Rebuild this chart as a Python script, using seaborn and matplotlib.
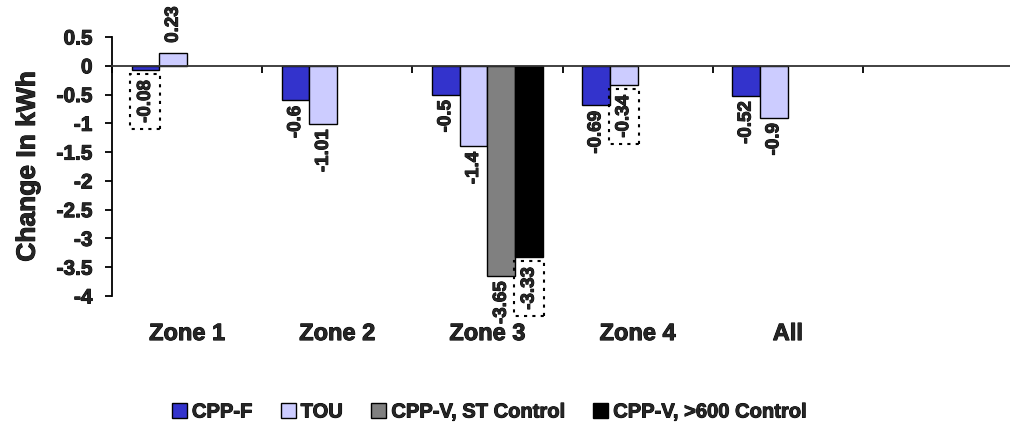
import numpy as np
import pandas as pd
import matplotlib
matplotlib.use("Agg")
import matplotlib.pyplot as plt
import matplotlib.patheffects as pe
import seaborn as sns
from matplotlib.patches import Patch

# ---- data ----
categories = ["Zone 1", "Zone 2", "Zone 3", "Zone 4", "All", " "]
series = ["CPP-F", "TOU", "CPP-V, ST Control", "CPP-V, >600 Control"]
cpp_f = [-0.08, -0.6, -0.5, -0.69, -0.52, None]
tou = [0.23, -1.01, -1.4, -0.34, -0.9, None]
cppv_st = [None, None, -3.65, None, None, None]
cppv_600 = [None, None, -3.33, None, None, None]
boxed = [("Zone 1", "CPP-F"), ("Zone 4", "TOU"), ("Zone 3", "CPP-V, >600 Control")]
colors = ["#3333CC", "#CCCCFF", "#808080", "#000000"]

rows = []
for s, vals in zip(series, [cpp_f, tou, cppv_st, cppv_600]):
    for c, v in zip(categories, vals):
        if v is not None:
            rows.append({"Zone": c, "Series": s, "Value": v})
df = pd.DataFrame(rows)

sns.set_theme(style="white")
plt.rcParams["font.family"] = ["Liberation Sans", "DejaVu Sans"]
plt.rcParams["font.weight"] = "bold"

heavy = [pe.withStroke(linewidth=0.7, foreground="black")]

fig = plt.figure(figsize=(10.10, 4.31), dpi=100)
ax = fig.add_axes([112 / 1010, 1 - 297 / 431, 901 / 1010, (297 - 38) / 431])

sns.barplot(data=df, x="Zone", y="Value", hue="Series", order=categories,
            hue_order=series, palette=colors, width=0.74, errorbar=None,
            edgecolor="black", linewidth=1.0, saturation=1, ax=ax, legend=False)

ax.set_ylim(-4, 0.5)
ax.set_xlim(-0.5, 5.5)
yt = np.arange(-4, 0.51, 0.5)
ax.set_yticks(yt)
ax.set_yticklabels([f"{t:g}" for t in yt], fontsize=15, fontweight="bold")
for t in ax.get_yticklabels():
    t.set_path_effects(heavy)
ax.set_ylabel("Change In kWh", fontsize=19, fontweight="bold", labelpad=12)
ax.yaxis.label.set_path_effects(heavy)
ax.set_xlabel("")

for sp in ["top", "right"]:
    ax.spines[sp].set_visible(False)
ax.spines["left"].set_color("black")
ax.spines["left"].set_linewidth(1.3)
ax.spines["bottom"].set_position(("data", 0))
ax.spines["bottom"].set_color("#333333")
ax.spines["bottom"].set_linewidth(1.3)
ax.tick_params(axis="y", direction="out", length=5, width=1.3, color="black", left=True, pad=9)
ax.set_xticks(np.arange(-0.5, 5.51, 1.0))
ax.set_xticklabels([])
ax.tick_params(axis="x", direction="out", length=5, width=1.3, color="black", bottom=True)

# category labels below the plot area
for i, c in enumerate(categories):
    ax.text(i, -0.145, c, transform=ax.get_xaxis_transform(), ha="center", va="center",
            fontsize=17, fontweight="bold", path_effects=heavy)

# value labels
for hi, cont in enumerate(ax.containers):
    s = series[hi]
    for p in cont.patches:
        h = p.get_height()
        if h is None or np.isnan(h):
            continue
        xc = p.get_x() + p.get_width() / 2
        ci = int(round(xc))
        c = categories[ci]
        lab = f"{h:g}"
        if h >= 0:
            kw = dict(xytext=(0, 7), va="bottom")
        else:
            kw = dict(xytext=(0, -4), va="top")
        bbox = None
        if (c, s) in boxed:
            bbox = dict(boxstyle="square,pad=0.35", fc="none", ec="black", ls=(0, (1.5, 2.5)), lw=1.5)
            kw["xytext"] = (0, -7)
        ax.annotate(lab, (xc, h), textcoords="offset points", ha="center", rotation=90,
                    fontsize=13.5, fontweight="bold", bbox=bbox, path_effects=heavy, **kw)

handles = [Patch(facecolor=col, edgecolor="black", linewidth=1.0) for col in colors]
leg = fig.legend(handles, series, loc="center", bbox_to_anchor=(489 / 1010, 1 - 413 / 431), ncol=4,
                 frameon=False, handlelength=0.75, handleheight=0.75, handletextpad=0.25,
                 columnspacing=1.4, prop={"size": 14.5, "weight": "bold"})
for t in leg.get_texts():
    t.set_path_effects(heavy)

fig.savefig("out.png", dpi=100)
